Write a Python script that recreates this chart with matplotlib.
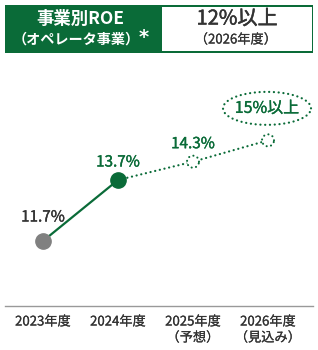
import matplotlib
matplotlib.use("Agg")
import matplotlib.pyplot as plt
from matplotlib.patches import Rectangle, Ellipse
import matplotlib.patheffects as pe
import numpy as np

plt.rcParams['font.family'] = ['Noto Sans CJK JP', 'DejaVu Sans']

categories = ["2023年度", "2024年度", "2025年度\n（予想）", "2026年度\n（見込み）"]
values = [11.7, 13.7, 14.3, 15.0]
labels = ["11.7%", "13.7%", "14.3%", "15%以上"]
title_left = "事業別ROE"
title_left2 = "（オペレータ事業）"
title_right = "12%以上"
title_right2 = "（2026年度）"

GREEN = "#0a6b38"
GRAY = "#808080"
DARK = "#333333"

W, H = 318, 350
STEP = 75.0   # px per category
PXV = 30.5    # px per % point
fig = plt.figure(figsize=(W / 100, H / 100), dpi=100)

def fx(x):
    return x / W

def fy(y):
    return 1 - y / H

def med(color, w=0.25):
    return [pe.withStroke(linewidth=w, foreground=color)]

ax = fig.add_axes([0, 0, 1, 1])
ax.set_xlim(-43 / STEP, (W - 43) / STEP)
ax.set_ylim(11.7 - (H - 241) / PXV, 11.7 + 241 / PXV)
ax.axis('off')

x = np.arange(len(categories))

DOT = (0, (0.05, 2.1))

# solid segment (actual)
ax.plot(x[:2], values[:2], color=GREEN, lw=1.6, zorder=2)
# dotted segment (forecast)
ax.plot(x[1:], values[1:], color=GREEN, lw=1.6, ls=DOT, zorder=1,
        dash_capstyle='round')

# markers
ax.plot(x[0], values[0], 'o', ms=11, color=GRAY, mec=GRAY, zorder=3)
ax.plot(x[1], values[1], 'o', ms=11, color=GREEN, mec=GREEN, zorder=3)

# dotted hollow markers
for i in (2, 3):
    r = 6.0
    ax.add_patch(Ellipse((x[i], values[i]), 2 * r / STEP, 2 * r / PXV,
                         facecolor='white', edgecolor='none', zorder=3))
    t = np.linspace(0, 2 * np.pi, 80)
    ax.plot(x[i] + r / STEP * np.cos(t), values[i] + r / PXV * np.sin(t),
            color=GREEN, lw=1.5, ls=DOT, dash_capstyle='round', zorder=4)

# value labels
ax.annotate(labels[0], (x[0], values[0]), xytext=(0, 24 * 0.72), textcoords='offset points',
            ha='center', va='center', fontsize=11, color=DARK, path_effects=med(DARK))
ax.annotate(labels[1], (x[1], values[1]), xytext=(0, 18 * 0.72), textcoords='offset points',
            ha='center', va='center', fontsize=11, color=GREEN, path_effects=med(GREEN))
ax.annotate(labels[2], (x[2], values[2]), xytext=(0, 18 * 0.72), textcoords='offset points',
            ha='center', va='center', fontsize=11, color=GREEN, path_effects=med(GREEN))

# target ellipse label
ex, ey = x[3] - 1 / STEP, values[3] + 32 / PXV
t = np.linspace(0, 2 * np.pi, 200)
ax.plot(ex + 44 / STEP * np.cos(t), ey + 16.5 / PXV * np.sin(t),
        color=GREEN, lw=1.6, ls=DOT, dash_capstyle='round', zorder=4)
ax.text(ex, ey, labels[3], ha='center', va='center', fontsize=11.5, color=GREEN,
        path_effects=med(GREEN))

# baseline
fig.add_artist(plt.Line2D([fx(5), fx(313)], [fy(306), fy(306)], color='#999999', lw=1.0))

# category labels
for i, c in enumerate(categories):
    lines = c.split("\n")
    ax.annotate(lines[0], (x[i], 0), xycoords=('data', 'figure fraction'),
                xytext=(0, (H - 322) * 0.72), textcoords='offset points',
                ha='center', va='center', fontsize=9.5, color=DARK, path_effects=med(DARK, 0.15))
    if len(lines) > 1:
        ax.annotate(lines[1], (x[i], 0), xycoords=('data', 'figure fraction'),
                    xytext=(0, (H - 338) * 0.72), textcoords='offset points',
                    ha='center', va='center', fontsize=9.5, color=DARK, path_effects=med(DARK, 0.15))

# header boxes
fig.add_artist(Rectangle((fx(5), fy(53)), fx(308), 48 / H, transform=fig.transFigure,
                         facecolor=GREEN, edgecolor='none'))
fig.add_artist(Rectangle((fx(162), fy(50.5)), fx(149.5), 43 / H, transform=fig.transFigure,
                         facecolor='white', edgecolor='none'))
fig.text(fx(80), fy(19), title_left, ha='center', va='center', fontsize=12.5,
         color='white', fontweight='bold')
fig.text(fx(76), fy(40), title_left2, ha='center', va='center', fontsize=10.2,
         color='white', fontweight='bold')
fig.text(fx(144), fy(38), "*", ha='center', va='center', fontsize=14,
         color='white', fontweight='bold', family='DejaVu Sans')
fig.text(fx(237), fy(19), title_right, ha='center', va='center', fontsize=14.5,
         color=DARK, path_effects=med(DARK, 0.35))
fig.text(fx(236), fy(40), title_right2, ha='center', va='center', fontsize=9.5,
         color=DARK, path_effects=med(DARK, 0.15))

fig.savefig("out.png", dpi=100, facecolor='white')
